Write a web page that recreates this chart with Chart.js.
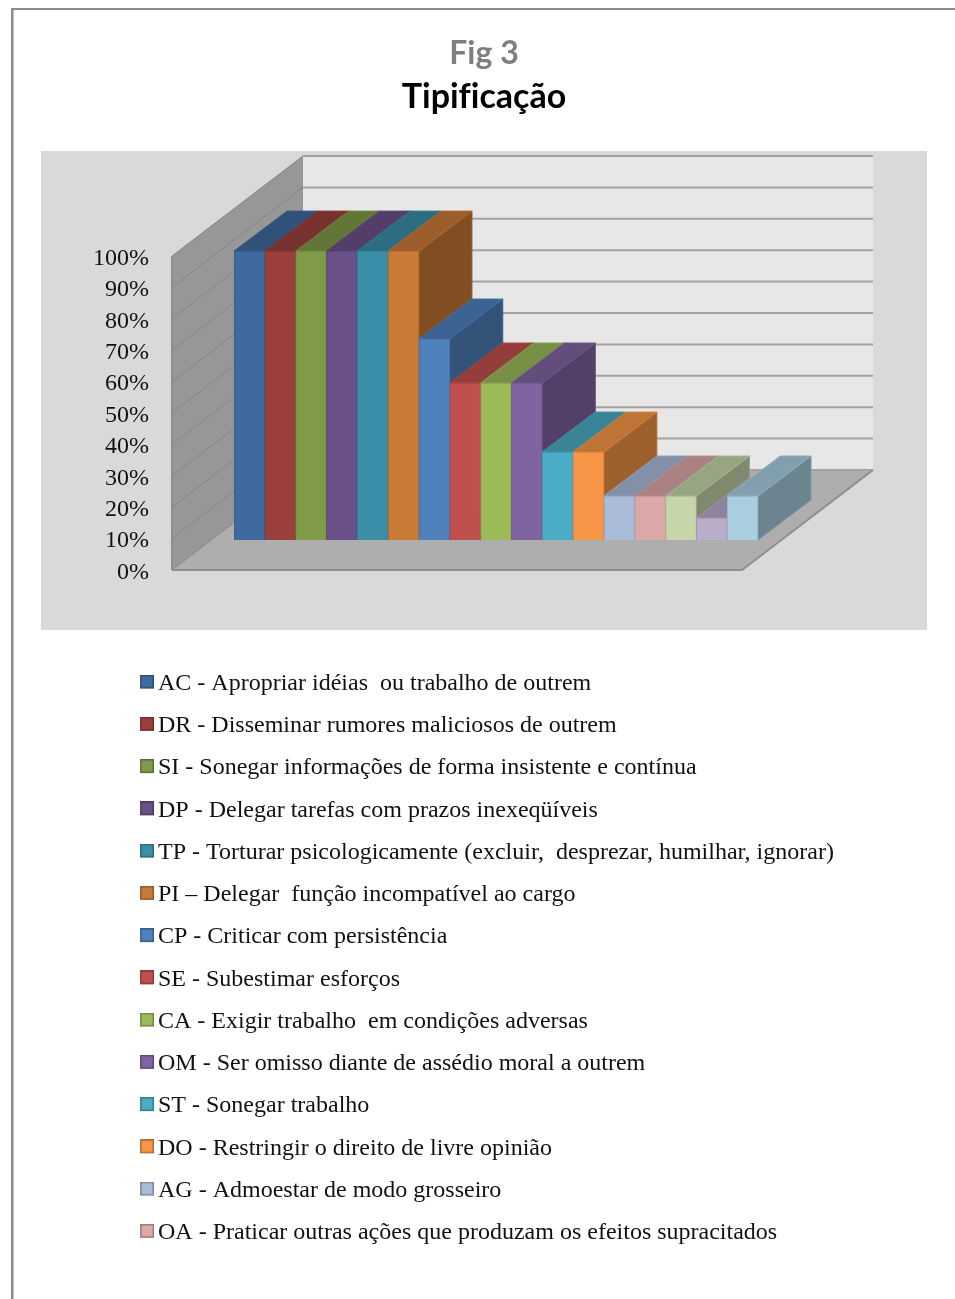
<!DOCTYPE html>
<html>
<head>
<meta charset="utf-8">
<style>html,body{margin:0;padding:0;background:#fff}canvas{display:block}</style>
<script src="https://cdn.jsdelivr.net/npm/chart.js@4"></script>
</head>
<body>
<canvas id="c" width="955" height="1299"></canvas>
<script>
const titleTop = 'Fig 3';
const titleMain = 'Tipificação';
const codes = ['AC','DR','SI','DP','TP','PI','CP','SE','CA','OM','ST','DO','AG','OA','','',''];
const values = [92,92,92,92,92,92,64,50,50,50,28,28,14,14,14,7,14];
const colors = ['#3e6a9f','#9b3f3d','#7f9a48','#6a5088','#3b8ea8','#ca7a37',
                '#4f81bd','#c0504d','#9bbb59','#8064a2','#4bacc6','#f79646',
                '#aabbd9','#dba9a8','#c6d6aa','#b9adca','#a8cedf'];
const legendTexts = [
 'AC - Apropriar idéias  ou trabalho de outrem',
 'DR - Disseminar rumores maliciosos de outrem',
 'SI - Sonegar informações de forma insistente e contínua',
 'DP - Delegar tarefas com prazos inexeqüíveis',
 'TP - Torturar psicologicamente (excluir,  desprezar, humilhar, ignorar)',
 'PI – Delegar  função incompatível ao cargo',
 'CP - Criticar com persistência',
 'SE - Subestimar esforços',
 'CA - Exigir trabalho  em condições adversas',
 'OM - Ser omisso diante de assédio moral a outrem',
 'ST - Sonegar trabalho',
 'DO - Restringir o direito de livre opinião',
 'AG - Admoestar de modo grosseiro',
 'OA - Praticar outras ações que produzam os efeitos supracitados'
];
const serif = '"Liberation Serif"';

function shade(hex, f){
  const n = parseInt(hex.slice(1),16);
  const c = [n>>16&255,n>>8&255,n&255].map(v=>Math.round(v*f));
  return 'rgb('+c.join(',')+')';
}
function swatch(col){
  const cv = document.createElement('canvas');
  cv.width = 16; cv.height = 18;
  const g = cv.getContext('2d');
  g.fillStyle = col; g.fillRect(2,0,14,14);
  g.strokeStyle = shade(col,.72); g.lineWidth = 1.5; g.strokeRect(2.75,.75,12.5,12.5);
  return cv;
}
function poly(ctx, pts, fill, stroke, lw){
  ctx.beginPath();
  pts.forEach((p,i)=> i?ctx.lineTo(p[0],p[1]):ctx.moveTo(p[0],p[1]));
  ctx.closePath();
  ctx.fillStyle = fill; ctx.fill();
  if (stroke){ ctx.strokeStyle = stroke; ctx.lineWidth = lw||1; ctx.stroke(); }
}

const scene3d = {
  id:'scene3d',
  afterLayout(chart){
    chart.boxes.forEach(b=>{ if (b.options && b.options.text){ b.left = 13; b.right = 955; } });
    const lg = chart.legend;
    lg.left = 127.75; lg.right = 955;
    lg.top = 653.35; lg.bottom = 1299;
  },
  beforeDraw(chart){
    const {ctx} = chart;
    ctx.letterSpacing = '0.001px';   // keeps "fi" as two letters in the title
    ctx.save();
    ctx.fillStyle = '#fff'; ctx.fillRect(0,0,955,1299);
    ctx.fillStyle = '#8c8c8c';
    ctx.fillRect(11,8,944,2); ctx.fillRect(11,8,2.5,1291);
    ctx.fillStyle = '#d9d9d9'; ctx.fillRect(41,151,886,479);
    ctx.restore();
  },
  beforeDatasetsDraw(chart){
    const {ctx, chartArea:a, scales:{y}} = chart;
    const fx = a.left-62, fy = 30;           // front wall offset from bar plane
    const bx = a.left+69, by = -70;          // back wall offset from bar plane
    const frx = a.right-16, brx = a.right+115;
    const y0 = y.getPixelForValue(0), y1 = y.getPixelForValue(100);
    ctx.save();
    // back wall
    poly(ctx, [[bx,y1+by],[brx,y1+by],[brx,y0+by],[bx,y0+by]], '#e7e7e7');
    // side wall
    poly(ctx, [[fx,y1+fy],[bx,y1+by],[bx,y0+by],[fx,y0+fy]], '#979797');
    // floor
    poly(ctx, [[fx,y0+fy],[bx,y0+by],[brx,y0+by],[frx,y0+fy]], '#aeaeae');
    // grid lines follow the value axis ticks
    y.ticks.forEach(t=>{
      const p = y.getPixelForValue(t.value);
      ctx.lineWidth = 2; ctx.strokeStyle = '#a3a3a3';
      ctx.beginPath(); ctx.moveTo(bx,p+by); ctx.lineTo(brx,p+by); ctx.stroke();
      ctx.lineWidth = 1; ctx.strokeStyle = '#868686';
      ctx.beginPath(); ctx.moveTo(fx,p+fy); ctx.lineTo(bx,p+by); ctx.stroke();
    });
    // floor edges
    ctx.strokeStyle = '#8e8e8e'; ctx.lineWidth = 2;
    ctx.beginPath();
    ctx.moveTo(fx,y0+fy); ctx.lineTo(frx,y0+fy); ctx.lineTo(brx,y0+by);
    ctx.moveTo(fx,y1+fy); ctx.lineTo(fx,y0+fy);
    ctx.stroke();
    // bar depth
    const dx = 53, dy = -40;
    chart.getDatasetMeta(0).data.forEach((bar,i)=>{
      const c = colors[i], hw = bar.width/2;
      const l = bar.x-hw, r = bar.x+hw, t = bar.y, b = bar.base;
      poly(ctx, [[r,t],[r+dx,t+dy],[r+dx,b+dy],[r,b]], shade(c,.64), shade(c,.74));
      poly(ctx, [[l,t],[l+dx,t+dy],[r+dx,t+dy],[r,t]], shade(c,.77), shade(c,.85));
    });
    ctx.restore();
  }
};

new Chart(document.getElementById('c'), {
  type:'bar',
  data:{ labels:codes, datasets:[{
    data:values,
    backgroundColor:colors,
    borderColor:colors.map(c=>shade(c,.88)),
    borderWidth:1,
    barPercentage:1, categoryPercentage:1
  }]},
  plugins:[scene3d],
  options:{
    responsive:false, animation:false,
    layout:{ padding:{ left:0, top:0, right:197, bottom:219 } },
    scales:{
      x:{ display:false },
      y:{
        min:0, max:100,
        afterFit(s){ s.width = 234; },
        grid:{ display:false, drawTicks:false },
        border:{ display:false },
        ticks:{ stepSize:10, autoSkip:false, padding:85, labelOffset:32.5, color:'#111',
                font:{ family:serif, size:24 }, callback:v=>v+'%' }
      }
    },
    plugins:{
      tooltip:{ enabled:false },
      title:{ display:true, text:titleTop, color:'#7f7f7f',
              font:{ family:'Lato', size:32, weight:'bold', lineHeight:1.2 },
              padding:{ top:34, bottom:0 } },
      subtitle:{ display:true, text:titleMain, color:'#000',
              font:{ family:'Lato', size:34, weight:'bold', lineHeight:1.2 },
              padding:{ top:4.7, bottom:108.1 } },
      legend:{
        display:true, position:'bottom', align:'start', fullSize:false,
        labels:{
          font:{ family:serif, size:24 }, color:'#111',
          padding:18.25, boxHeight:14, usePointStyle:true, pointStyleWidth:0.01,
          generateLabels:()=>legendTexts.map((t,i)=>({
            text:t.padEnd(62), pointStyle:swatch(colors[i]), fillStyle:colors[i],
            strokeStyle:colors[i], lineWidth:0, hidden:false, index:i, fontColor:'#111'
          }))
        }
      }
    }
  }
});
</script>
</body>
</html>
